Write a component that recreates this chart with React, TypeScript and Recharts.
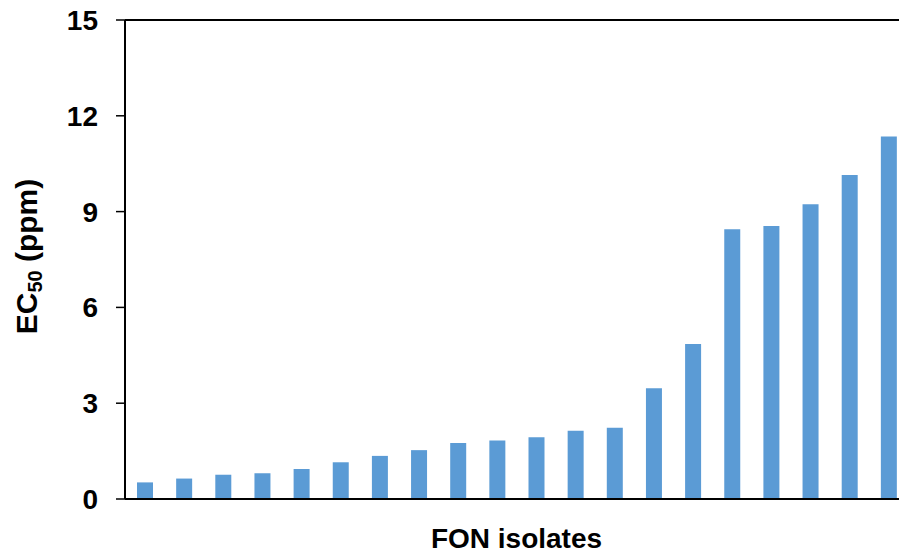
import { BarChart, Bar, XAxis, YAxis, ReferenceLine } from "recharts";

const isolates = [
  "1", "2", "3", "4", "5", "6", "7", "8", "9", "10",
  "11", "12", "13", "14", "15", "16", "17", "18", "19", "20",
];
const ec50 = [
  0.52, 0.64, 0.76, 0.81, 0.94, 1.15, 1.35, 1.53, 1.75, 1.83,
  1.93, 2.14, 2.23, 3.47, 4.85, 8.45, 8.55, 9.23, 10.15, 11.35,
];
const yTicks = [0, 3, 6, 9, 12, 15];

const data = isolates.map((name, i) => ({ name, ec50: ec50[i] }));

const FONT = "'Liberation Sans', Arial, sans-serif";

function YLabel(props: any) {
  const vb = props.viewBox || { x: 0, y: 20, width: 125, height: 479 };
  const x = 37;
  const y = vb.y + vb.height / 2 - 3;
  return (
    <text
      x={x}
      y={y}
      transform={`rotate(-90, ${x}, ${y})`}
      textAnchor="middle"
      fontFamily={FONT}
      fontWeight="bold"
      fontSize={30}
      fill="#000"
    >
      EC
      <tspan fontSize={20} dy={5}>
        50
      </tspan>
      <tspan dy={-5}> (ppm)</tspan>
    </text>
  );
}

export default function App() {
  return (
    <div
      style={{
        position: "fixed",
        left: 0,
        top: 0,
        width: 899,
        height: 558,
        overflow: "hidden",
        background: "#fff",
      }}
    >
      <BarChart
        width={910}
        height={558}
        data={data}
        margin={{ top: 20, right: 2, bottom: 0, left: 0 }}
      >
        <ReferenceLine y={15} stroke="#000" strokeWidth={2} />
        <XAxis
          dataKey="name"
          height={59}
          tick={false}
          tickLine={false}
          axisLine={{ stroke: "#000", strokeWidth: 2 }}
          label={{
            value: "FON isolates",
            position: "insideBottom",
            offset: 10,
            fill: "#000",
            style: { fontFamily: FONT, fontWeight: "bold", fontSize: 28 },
          }}
        />
        <YAxis
          width={125}
          domain={[0, 15]}
          ticks={yTicks}
          interval={0}
          tickSize={9}
          tickMargin={18}
          axisLine={{ stroke: "#000", strokeWidth: 2 }}
          tickLine={{ stroke: "#000", strokeWidth: 1.5 }}
          tick={{ fill: "#000", fontFamily: FONT, fontWeight: "bold", fontSize: 28 }}
          label={{ content: YLabel }}
        />
        <Bar dataKey="ec50" fill="#5B9BD5" barSize={16} isAnimationActive={false} />
      </BarChart>
    </div>
  );
}
